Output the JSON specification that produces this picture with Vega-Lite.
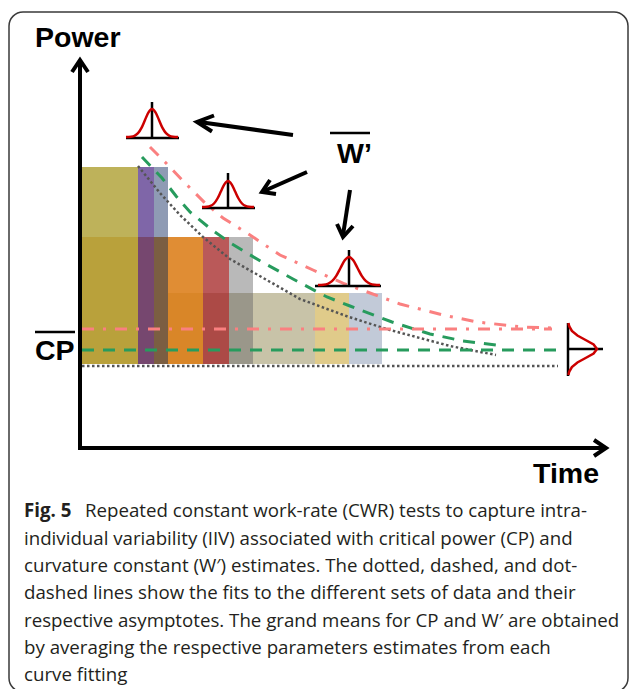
{
  "$schema": "https://vega.github.io/schema/vega-lite/v6.json",
  "width": 629,
  "height": 689,
  "padding": 0,
  "autosize": {"type": "none"},
  "background": "white",
  "config": {"view": {"stroke": null}},
  "datasets": {
    "frame": [{"x": 9, "x2": 628, "y": 12, "y2": 692}],
    "bars": [
      {"cell": "A1", "x": 82, "x2": 138, "y": 167, "y2": 237},
      {"cell": "A2", "x": 138, "x2": 154, "y": 167, "y2": 237},
      {"cell": "A3", "x": 154, "x2": 168, "y": 167, "y2": 237},
      {"cell": "B1", "x": 82, "x2": 138, "y": 237, "y2": 364},
      {"cell": "B2", "x": 138, "x2": 154, "y": 237, "y2": 364},
      {"cell": "B3", "x": 154, "x2": 168, "y": 237, "y2": 364},
      {"cell": "B4", "x": 168, "x2": 203, "y": 237, "y2": 293},
      {"cell": "B5", "x": 203, "x2": 229, "y": 237, "y2": 293},
      {"cell": "B6", "x": 229, "x2": 253, "y": 237, "y2": 293},
      {"cell": "C4", "x": 168, "x2": 203, "y": 293, "y2": 364},
      {"cell": "C5", "x": 203, "x2": 229, "y": 293, "y2": 364},
      {"cell": "C6", "x": 229, "x2": 253, "y": 293, "y2": 364},
      {"cell": "C7", "x": 253, "x2": 315, "y": 293, "y2": 364},
      {"cell": "C8", "x": 315, "x2": 349, "y": 293, "y2": 364},
      {"cell": "C9", "x": 349, "x2": 382, "y": 293, "y2": 364}
    ],
    "pink": [
      {"part": "a", "x": 82, "y": 329}, {"part": "a", "x": 552, "y": 329},
      {"part": "c", "x": 150, "y": 147}, {"part": "c", "x": 165, "y": 162},
      {"part": "c", "x": 185, "y": 183}, {"part": "c", "x": 205, "y": 203},
      {"part": "c", "x": 223, "y": 218}, {"part": "c", "x": 250, "y": 235},
      {"part": "c", "x": 280, "y": 255}, {"part": "c", "x": 313, "y": 270},
      {"part": "c", "x": 345, "y": 284}, {"part": "c", "x": 370, "y": 293},
      {"part": "c", "x": 400, "y": 304}, {"part": "c", "x": 443, "y": 315},
      {"part": "c", "x": 477, "y": 322}, {"part": "c", "x": 523, "y": 327},
      {"part": "c", "x": 552, "y": 328}
    ],
    "green": [
      {"part": "a", "x": 82, "y": 350}, {"part": "a", "x": 559, "y": 350},
      {"part": "c", "x": 142, "y": 157}, {"part": "c", "x": 162, "y": 178},
      {"part": "c", "x": 176, "y": 196}, {"part": "c", "x": 190, "y": 212},
      {"part": "c", "x": 212, "y": 230}, {"part": "c", "x": 232, "y": 244},
      {"part": "c", "x": 262, "y": 262}, {"part": "c", "x": 293, "y": 279},
      {"part": "c", "x": 327, "y": 297}, {"part": "c", "x": 350, "y": 306},
      {"part": "c", "x": 392, "y": 322}, {"part": "c", "x": 430, "y": 334},
      {"part": "c", "x": 463, "y": 341}, {"part": "c", "x": 503, "y": 346}
    ],
    "grey": [
      {"part": "a", "x": 82, "y": 366}, {"part": "a", "x": 558, "y": 366},
      {"part": "c", "x": 138, "y": 166}, {"part": "c", "x": 160, "y": 193},
      {"part": "c", "x": 180, "y": 215}, {"part": "c", "x": 203, "y": 237},
      {"part": "c", "x": 230, "y": 259}, {"part": "c", "x": 265, "y": 279},
      {"part": "c", "x": 300, "y": 299}, {"part": "c", "x": 349, "y": 317},
      {"part": "c", "x": 390, "y": 330}, {"part": "c", "x": 420, "y": 338},
      {"part": "c", "x": 450, "y": 346}, {"part": "c", "x": 496, "y": 355}
    ],
    "iconLines": [
      {"id": "b1", "x": 126, "y": 138}, {"id": "b1", "x": 179, "y": 138},
      {"id": "v1", "x": 152, "y": 102}, {"id": "v1", "x": 152, "y": 138},
      {"id": "b2", "x": 202, "y": 208}, {"id": "b2", "x": 255, "y": 208},
      {"id": "v2", "x": 228, "y": 173}, {"id": "v2", "x": 228, "y": 208},
      {"id": "b3", "x": 315, "y": 286}, {"id": "b3", "x": 381, "y": 286},
      {"id": "v3", "x": 349, "y": 250}, {"id": "v3", "x": 349, "y": 286},
      {"id": "b4", "x": 568, "y": 323}, {"id": "b4", "x": 568, "y": 376},
      {"id": "v4", "x": 568, "y": 349}, {"id": "v4", "x": 603, "y": 349}
    ],
    "bells": [
      {"id": "g1", "x": 126, "y": 137}, {"id": "g1", "x": 131, "y": 136.7}, {"id": "g1", "x": 134.5, "y": 135.8},
      {"id": "g1", "x": 138, "y": 133.2}, {"id": "g1", "x": 141.5, "y": 127.9}, {"id": "g1", "x": 145, "y": 120},
      {"id": "g1", "x": 148.5, "y": 112.3}, {"id": "g1", "x": 152, "y": 109}, {"id": "g1", "x": 155.5, "y": 112.3},
      {"id": "g1", "x": 159, "y": 120}, {"id": "g1", "x": 162.5, "y": 127.9}, {"id": "g1", "x": 166, "y": 133.2},
      {"id": "g1", "x": 169.5, "y": 135.8}, {"id": "g1", "x": 173, "y": 136.7}, {"id": "g1", "x": 178, "y": 137},
      {"id": "g2", "x": 202, "y": 207}, {"id": "g2", "x": 207, "y": 206.7}, {"id": "g2", "x": 210.5, "y": 205.9},
      {"id": "g2", "x": 214, "y": 203.5}, {"id": "g2", "x": 217.5, "y": 198.5}, {"id": "g2", "x": 221, "y": 191.2},
      {"id": "g2", "x": 224.5, "y": 184.1}, {"id": "g2", "x": 228, "y": 181}, {"id": "g2", "x": 231.5, "y": 184.1},
      {"id": "g2", "x": 235, "y": 191.2}, {"id": "g2", "x": 238.5, "y": 198.5}, {"id": "g2", "x": 242, "y": 203.5},
      {"id": "g2", "x": 245.5, "y": 205.9}, {"id": "g2", "x": 249, "y": 206.7}, {"id": "g2", "x": 254, "y": 207},
      {"id": "g3", "x": 318, "y": 285}, {"id": "g3", "x": 323.5, "y": 284.7}, {"id": "g3", "x": 327.75, "y": 283.8},
      {"id": "g3", "x": 332, "y": 281.2}, {"id": "g3", "x": 336.25, "y": 275.9}, {"id": "g3", "x": 340.5, "y": 268},
      {"id": "g3", "x": 344.75, "y": 260.3}, {"id": "g3", "x": 349, "y": 257}, {"id": "g3", "x": 353.25, "y": 260.3},
      {"id": "g3", "x": 357.5, "y": 268}, {"id": "g3", "x": 361.75, "y": 275.9}, {"id": "g3", "x": 366, "y": 281.2},
      {"id": "g3", "x": 370.25, "y": 283.8}, {"id": "g3", "x": 374.5, "y": 284.7}, {"id": "g3", "x": 380, "y": 285}
    ],
    "sideBell": [
      {"x": 568.4, "y": 323}, {"x": 569.3, "y": 326.5}, {"x": 571.9, "y": 331}, {"x": 577.4, "y": 335.5},
      {"x": 585.6, "y": 340}, {"x": 593.6, "y": 344.5}, {"x": 597, "y": 349}, {"x": 593.6, "y": 353.5},
      {"x": 585.6, "y": 358}, {"x": 577.4, "y": 362.5}, {"x": 571.9, "y": 367}, {"x": 569.3, "y": 371.5},
      {"x": 568.4, "y": 375}
    ],
    "arrows": [
      {"id": "s1", "i": 0, "x": 293, "y": 135}, {"id": "s1", "i": 1, "x": 199, "y": 122},
      {"id": "h1", "i": 0, "x": 214, "y": 115.5}, {"id": "h1", "i": 1, "x": 197, "y": 122}, {"id": "h1", "i": 2, "x": 212, "y": 131.5},
      {"id": "s2", "i": 0, "x": 307, "y": 172}, {"id": "s2", "i": 1, "x": 264, "y": 191},
      {"id": "h2", "i": 0, "x": 270, "y": 180}, {"id": "h2", "i": 1, "x": 262, "y": 192}, {"id": "h2", "i": 2, "x": 276, "y": 194},
      {"id": "s3", "i": 0, "x": 350, "y": 190}, {"id": "s3", "i": 1, "x": 343, "y": 235},
      {"id": "h3", "i": 0, "x": 337, "y": 224}, {"id": "h3", "i": 1, "x": 343, "y": 237}, {"id": "h3", "i": 2, "x": 353, "y": 226},
      {"id": "sy", "i": 0, "x": 80, "y": 62}, {"id": "sy", "i": 1, "x": 80, "y": 450},
      {"id": "hy", "i": 0, "x": 72, "y": 72}, {"id": "hy", "i": 1, "x": 80, "y": 60}, {"id": "hy", "i": 2, "x": 88, "y": 72},
      {"id": "sx", "i": 0, "x": 78, "y": 448}, {"id": "sx", "i": 1, "x": 604, "y": 448},
      {"id": "hx", "i": 0, "x": 594, "y": 440}, {"id": "hx", "i": 1, "x": 606, "y": 448}, {"id": "hx", "i": 2, "x": 594, "y": 456}
    ],
    "overlines": [
      {"id": "cp", "x": 35, "y": 332}, {"id": "cp", "x": 75, "y": 332},
      {"id": "w", "x": 330, "y": 133}, {"id": "w", "x": 370, "y": 133}
    ],
    "labels": [
      {"text": "Power", "x": 35, "y": 47},
      {"text": "Time", "x": 533, "y": 483},
      {"text": "CP", "x": 35, "y": 360},
      {"text": "W’", "x": 337, "y": 163}
    ],
    "captionBold": [{"text": "Fig. 5", "x": 24, "y": 517}],
    "caption": [
      {"text": "Repeated constant work-rate (CWR) tests to capture intra-", "x": 85, "y": 517},
      {"text": "individual variability (IIV) associated with critical power (CP) and", "x": 24, "y": 544.5},
      {"text": "curvature constant (W′) estimates. The dotted, dashed, and dot-", "x": 24, "y": 572},
      {"text": "dashed lines show the fits to the different sets of data and their", "x": 24, "y": 599},
      {"text": "respective asymptotes. The grand means for CP and W′ are obtained", "x": 24, "y": 626.5},
      {"text": "by averaging the respective parameters estimates from each", "x": 24, "y": 654},
      {"text": "curve fitting", "x": 24, "y": 681}
    ]
  },
  "encoding": {
    "x": {"field": "x", "type": "quantitative", "scale": {"domain": [0, 629], "nice": false, "zero": false}, "axis": null},
    "y": {"field": "y", "type": "quantitative", "scale": {"domain": [0, 689], "nice": false, "zero": false, "reverse": true}, "axis": null}
  },
  "layer": [
    {
      "data": {"name": "frame"},
      "mark": {"type": "rect", "fillOpacity": 0, "stroke": "#3a3a3a", "strokeWidth": 1.5, "cornerRadius": 14},
      "encoding": {"x2": {"field": "x2"}, "y2": {"field": "y2"}}
    },
    {
      "data": {"name": "bars"},
      "mark": {"type": "rect"},
      "encoding": {
        "x2": {"field": "x2"},
        "y2": {"field": "y2"},
        "color": {
          "field": "cell", "type": "nominal", "legend": null,
          "scale": {
            "domain": ["A1", "A2", "A3", "B1", "B2", "B3", "B4", "B5", "B6", "C4", "C5", "C6", "C7", "C8", "C9"],
            "range": ["#BEB25A", "#7F66A8", "#8F9BB4", "#B9A13B", "#76476F", "#7B5E42", "#E08D34", "#BA5959", "#B9B9B9", "#D98628", "#AC4A46", "#9A978A", "#C8C3A8", "#E0CB8A", "#C2CAD8"]
          }
        }
      }
    },
    {
      "data": {"name": "grey"},
      "mark": {"type": "line", "color": "#555555", "strokeWidth": 2.5, "strokeDash": [2.5, 2.5]},
      "encoding": {"detail": {"field": "part"}, "order": {"field": "x"}}
    },
    {
      "data": {"name": "green"},
      "mark": {"type": "line", "color": "#279B5D", "strokeWidth": 3, "strokeDash": [12, 9]},
      "encoding": {"detail": {"field": "part"}, "order": {"field": "x"}}
    },
    {
      "data": {"name": "pink"},
      "mark": {"type": "line", "color": "#FA8080", "strokeWidth": 3, "strokeDash": [12, 9, 3, 9]},
      "encoding": {"detail": {"field": "part"}, "order": {"field": "x"}}
    },
    {
      "data": {"name": "iconLines"},
      "mark": {"type": "line", "color": "#000000", "strokeWidth": 2.5},
      "encoding": {"detail": {"field": "id"}}
    },
    {
      "data": {"name": "bells"},
      "mark": {"type": "line", "color": "#CC0000", "strokeWidth": 2.5, "interpolate": "monotone"},
      "encoding": {"detail": {"field": "id"}, "order": {"field": "x"}}
    },
    {
      "data": {"name": "sideBell"},
      "mark": {"type": "line", "color": "#CC0000", "strokeWidth": 2.5},
      "encoding": {"order": {"field": "y"}}
    },
    {
      "data": {"name": "arrows"},
      "mark": {"type": "line", "color": "#000000", "strokeWidth": 4, "strokeJoin": "miter", "strokeCap": "butt"},
      "encoding": {"detail": {"field": "id"}, "order": {"field": "i"}}
    },
    {
      "data": {"name": "overlines"},
      "mark": {"type": "line", "color": "#000000", "strokeWidth": 2.5},
      "encoding": {"detail": {"field": "id"}}
    },
    {
      "data": {"name": "labels"},
      "mark": {"type": "text", "font": "Liberation Sans", "fontWeight": "bold", "fontSize": 28.5, "align": "left", "baseline": "alphabetic", "color": "#000000"},
      "encoding": {"text": {"field": "text"}}
    },
    {
      "data": {"name": "captionBold"},
      "mark": {"type": "text", "font": "Open Sans", "fontWeight": "bold", "fontSize": 18.7, "align": "left", "baseline": "alphabetic", "color": "#231F20"},
      "encoding": {"text": {"field": "text"}}
    },
    {
      "data": {"name": "caption"},
      "mark": {"type": "text", "font": "Open Sans", "fontSize": 18.7, "align": "left", "baseline": "alphabetic", "color": "#231F20"},
      "encoding": {"text": {"field": "text"}}
    }
  ]
}
